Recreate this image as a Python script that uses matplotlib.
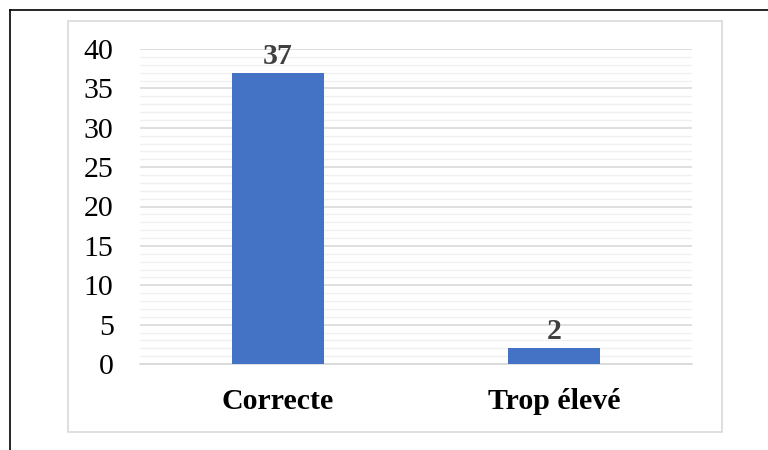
import matplotlib.pyplot as plt
from matplotlib.lines import Line2D
from matplotlib.patches import Rectangle

categories = ["Correcte", "Trop élevé"]
counts = [37, 2]
y_ticks = [0, 5, 10, 15, 20, 25, 30, 35, 40]

plt.rcParams["font.family"] = ["Liberation Serif", "DejaVu Serif"]

W, H = 768, 450
fig = plt.figure(figsize=(W / 100, H / 100), dpi=100, facecolor="white")

# document frame (black) and chart border (light gray), in pixels
fig.add_artist(Line2D([10 / W, 1], [1 - 10 / H, 1 - 10 / H], color="black", lw=1.2))
fig.add_artist(Line2D([10 / W, 10 / W], [0, 1 - 10 / H], color="black", lw=1.2))
fig.add_artist(Rectangle((68 / W, 1 - 432 / H), (722 - 68) / W, (432 - 21) / H,
                         transform=fig.transFigure, fill=False,
                         edgecolor="#d9d9d9", lw=1.2))

ax = fig.add_axes([140 / W, 1 - 364 / H, (692 - 140) / W, (364 - 49) / H])
x = list(range(len(categories)))
bars = ax.bar(x, counts, width=0.333, color="#4472c4", zorder=3)

ax.set_xlim(-0.5, len(categories) - 0.5)
ax.set_ylim(0, 40)
ax.set_yticks(y_ticks)
ax.set_yticks(range(0, 41), minor=True)
ax.grid(axis="y", which="minor", color="#f0f0f0", lw=1.0, zorder=0)
ax.grid(axis="y", which="major", color="#d9d9d9", lw=1.2, zorder=1)
ax.tick_params(axis="y", which="both", length=0, labelsize=21.5, pad=19)
ax.set_xticks(x)
ax.set_xticklabels(categories, fontsize=21.5, fontweight="bold")
ax.tick_params(axis="x", length=0, pad=17)
for s in ["top", "right", "left"]:
    ax.spines[s].set_visible(False)
ax.spines["bottom"].set_color("#d9d9d9")
ax.spines["bottom"].set_linewidth(1.2)

for b, v in zip(bars, counts):
    ax.annotate(str(v), (b.get_x() + b.get_width() / 2, v), xytext=(0, 2),
                textcoords="offset points", ha="center", va="bottom",
                fontsize=21.5, fontweight="bold", color="#404040")

fig.savefig("out.png", dpi=100)
